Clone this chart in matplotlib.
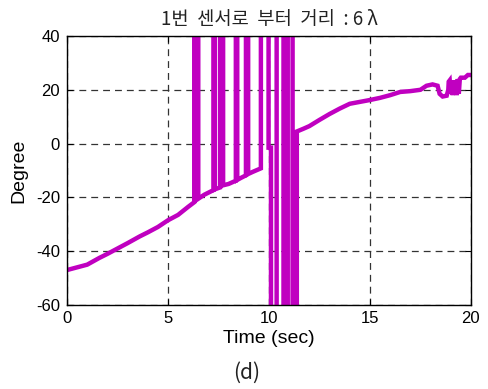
import matplotlib
matplotlib.use('Agg')
import matplotlib.pyplot as plt

plt.rcParams['font.family'] = ['Liberation Sans', 'DejaVu Sans']
plt.rcParams['axes.unicode_minus'] = False

# phase angle; +/-100 stand for wrapped values off the axis
time = [0.0, 0.5, 1.0, 1.6, 2.0, 2.5, 3.0, 3.6, 4.0, 4.5, 5.0, 5.5, 6.0,
        6.3, 6.3, 6.5, 6.5, 6.8,
        7.25, 7.25, 7.32, 7.32,
        7.58, 7.58, 7.73, 7.73, 8.0,
        8.36, 8.36, 8.43, 8.43, 8.6,
        8.86, 8.86, 8.97, 8.97, 9.2,
        9.6, 9.6, 9.98, 9.98, 10.1, 10.1,
        10.38, 10.38, 10.72, 10.72, 10.93, 10.93, 11.17, 11.17, 11.38, 11.38,
        11.7, 12.0, 12.5, 13.0, 13.5, 14.0, 14.5, 15.0, 15.5, 16.0, 16.5,
        17.0, 17.5, 17.8, 18.1, 18.35, 18.45, 18.6, 18.8, 18.88,
        18.9, 18.95, 19.0, 19.05, 19.1, 19.15, 19.2, 19.25, 19.3, 19.35,
        19.4, 19.45, 19.5, 19.7, 19.85, 20.0]
degree = [-47, -46, -45, -42.5, -41, -39, -37, -34.5, -33, -31, -28.5, -26.5, -23.5,
          -21.8, 100, 100, -20.5, -19,
          -17.3, 100, 100, -17,
          -16.3, 100, 100, -15.5, -15,
          -13.8, 100, 100, -13.5, -12.8,
          -11.8, 100, 100, -11.3, -10.5,
          -9.2, 100, 100, -1.5, -1.5, -100,
          -100, 100, 100, -100, -100, 100, 100, -100, -100, 4.5,
          5.5, 6.5, 8.8, 11, 13, 14.8, 15.5, 16.2, 17, 18, 19.2,
          19.5, 20, 21.5, 22, 21.5, 18.5, 17.5, 17.8, 20,
          23, 23.5, 18.5, 23, 18, 23.5, 18.5, 23.5, 18, 24,
          18.5, 24, 24.5, 24.5, 25.5, 25.5]

fig = plt.figure(figsize=(4.88, 3.89), dpi=100)
ax = fig.add_axes([0.1373, 0.2159, 0.8277, 0.6916])

ax.plot(time, degree, color='#c000c0', linewidth=3.2, solid_joinstyle='miter')

ax.set_xlim(0, 20)
ax.set_ylim(-60, 40)
ax.set_xticks([0, 5, 10, 15, 20])
ax.set_yticks([-60, -40, -20, 0, 20, 40])
ax.grid(True, color='#333333', linestyle=(0, (5.5, 4)), linewidth=0.9)
ax.tick_params(direction='in', length=4, width=0.8, labelsize=12,
               top=True, right=True)
ax.tick_params(axis='y', pad=5)
ax.tick_params(axis='x', pad=4)
for s in ax.spines.values():
    s.set_linewidth(1.0)

ax.set_xlabel('Time (sec)', fontsize=14, labelpad=3)
ax.set_ylabel('Degree', fontsize=14, labelpad=6)
ax.set_title('1번  센서로  부터  거리  : 6 λ', fontsize=13.5, pad=8,
             family=['Noto Sans CJK KR', 'DejaVu Sans'], color='#222222')

fig.text(0.505, 0.042, '(d)', ha='center', va='center', fontsize=15,
         family=['Noto Sans CJK KR', 'DejaVu Sans'], color='#222222')

fig.savefig('out.png', dpi=100)
